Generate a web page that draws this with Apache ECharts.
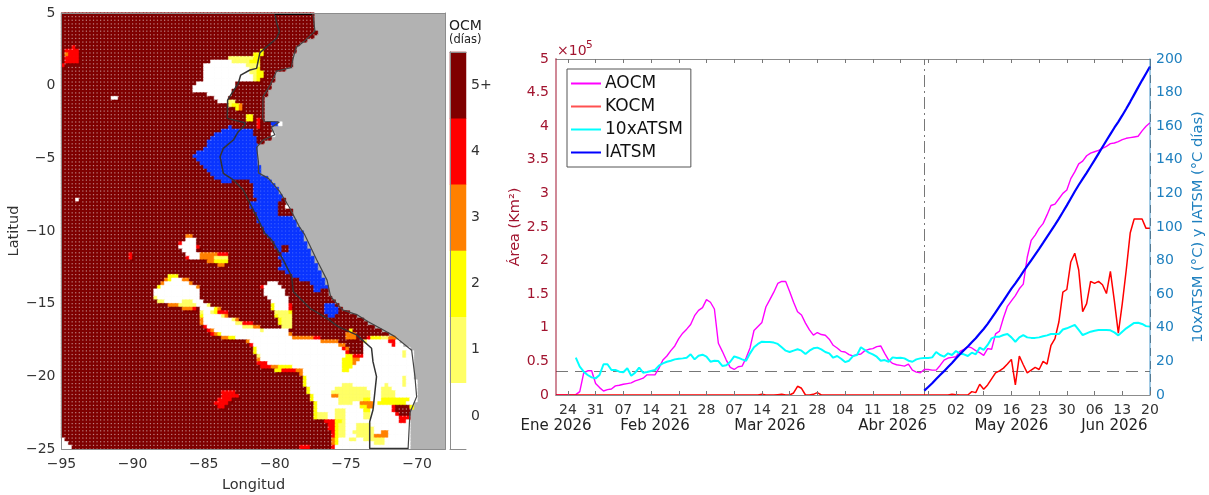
<!DOCTYPE html>
<html><head><meta charset="utf-8">
<script src="https://cdn.jsdelivr.net/npm/echarts@6/dist/echarts.min.js"></script>
<style>html,body{margin:0;padding:0;background:#fff}#c{width:1209px;height:495px}</style></head>
<body><div id="c"></div>
<script>
const FONT='DejaVu Sans';
// ---------- map: first grey (land) column of each 0.25-degree row, north to south
const landStart=[71,71,71,71,71,72,71,69,67,66,66,65,65,65,65,63,60,60,60,59,59,58,58,57,57,57,57,57,57,57,62,59,59,60,59,57,55,55,55,55,55,55,56,56,56,58,59,60,61,61,62,63,63,64,65,65,65,66,66,67,68,68,68,69,69,70,70,71,71,72,72,73,73,74,74,75,75,75,76,77,78,79,81,83,85,86,88,90,92,94,95,96,98,99,99,99,99,99,99,99,99,100,100,100,100,100,100,99,99,98,98,98,98,98,98,98,98,98,98,98];
// ---------- map: cells that differ from 5+, "row": "colA-colB:value" (6 = masked blue)
const mapSpans={
9:'3:4',10:'1-4:4 56:2',11:'1:3 2-4:4 54-56:2',12:'1-4:4 47-53:1 54-55:2',13:'1-4:4 42-47:0 48-52:1 53-55:2',14:'0:4 40-51:0 52-55:1',
15:'40-52:0 53-54:1 55:2',16:'40-52:0 53-54:1 55-56:2',17:'40-53:0 54:1 55-56:2',18:'40-53:0 54:1 55:2',19:'38-48:0',20:'37-48:0',21:'37-47:0',22:'41-47:0',
23:'14-15:0 43-46:0',24:'44-46:0 47-48:1',25:'47:1 48-49:2 50:3',26:'49:2 50:3',28:'52-53:2',29:'52-53:2 55:4',30:'55:4 59-60:6 61:0',31:'47:6 55:4 59-60:6',
32:'45-53:6',33:'43-53:6 59:0',34:'42-54:6',35:'41-54:6',36:'41-54:6',37:'40-54:6',38:'38-54:6',39:'37-54:6',40:'38-54:6',41:'39-54:6',42:'40-55:6',43:'41-55:6',44:'42-55:6',
45:'43-57:6',46:'45-47:6 53-58:6',47:'54-59:6',48:'54-60:6',49:'54-60:6',50:'54-61:6',51:'4:0 55-61:6',52:'53-60:6 63:0',53:'53-60:6 63:0',54:'54-60:6',55:'55-60:6',
56:'55-64:6',57:'55-65:6',58:'56-65:6',59:'57-66:6',60:'57-67:6',61:'35-36:3 58-67:6',62:'35-37:0 59-68:6',63:'33:4 34-37:0 60-64:6 65-68:6',64:'33-37:0 38:4 60-61:6 64-68:6',
65:'34-37:0 61:6 64-69:6',66:'19:4 35-38:0 39-43:3 44-46:4 62-69:6',67:'19:4 35:4 36-38:0 39-42:3 43-46:1 61-70:6',68:'41-42:3 43-46:2 62-70:6',69:'44-45:3 62-71:6',70:'61-71:6',71:'63-72:6',
72:'30-32:2 65-72:6',73:'29:3 30:2 31-33:0 34-35:3 67-73:6',74:'28:3 29-35:0 36:3 58-60:0 70-73:6',75:'27:2 28-37:0 38:3 56:4 57-61:0 71-74:6',76:'26-38:0 57-62:0 71-72:6',77:'26-38:0 57-62:0',
78:'26:1 27-38:0 58-63:0',79:'27-28:1 29-33:0 34-36:1 37-39:0 59-63:0',80:'30-32:3 33-37:1 38-40:0 41:1 59:2 60-63:0 64:4 74-76:6',81:'34-36:3 37:4 39-42:0 43:2 44:3 59:2 60-63:0 64:4 74-77:6',
82:'39:1 40-41:0 42:1 43:2 44-46:4 60-63:1 64:2 74-77:6',83:'39:2 40-44:0 45:1 46:3 60:2 61-64:1 75-76:6',84:'39:3 40-47:0 48:1 49:3 61:2 62-64:1',85:'39:3 40-48:0 49-50:1 51-53:4 61:2 62-64:1',
86:'40:4 41-50:0 51-53:1 54-55:3 62-64:1',87:'41:4 42:3 43-55:0 56:1 57-63:0 81:2',88:'42:4 43:3 44:2 45-63:0 64:3 80-82:3',89:'45-46:3 47-48:2 49-64:0 65-70:3 71-72:4 80-82:3 86:4 87-89:2 90-91:1 92-93:3',
90:'52:3 53-72:0 73-77:3 85:1 86-91:0 92-93:4 94:0',91:'53:4 54-77:0 78-79:3 85-92:0 93:4 94-95:0',92:'54:2 55-78:0 79:4 80:3 85-97:0',93:'54:2 55-79:0 80:4 85-98:0 96:1',94:'55:1 56-79:0 80-81:2 82-84:4 85-98:0 96:1',
95:'55:3 56-78:0 79-81:2 82-83:3 84-98:0',96:'55-57:4 58-78:0 79-81:2 82:3 83-98:0',97:'56-58:4 59-60:3 61-64:2 65-78:0 79-81:2 82-98:0',98:'60-61:2 62-65:4 66-67:3 68-98:0 79-80:2',99:'67:3 68-98:0',
100:'68:2 69-99:0 96:1',101:'68:2 69-99:0 96:1',102:'68:2 69-99:0 79-81:1 91:1 96:1',103:'69:2 70-99:0 77-85:1 90-92:1',104:'45-48:4 69:2 70-99:0 76-86:1 90-93:1',105:'45-49:4 70:2 71-99:0 76-77:3 78-86:1 90-93:1',
106:'44-47:4 70:2 71-99:0 78-84:1 85-86:2 90-97:2',107:'43-46:4 71:2 72-98:0 78-81:1 84-87:3 89-96:2',108:'44-45:4 71:2 72-98:0 84-85:2 86-87:3 93:4 94-97:5 98:2',109:'71:2 72-97:0 77-79:1 85-86:2 93:4 94-97:5 98:2',
110:'71:2 72-74:1 75-76:0 77-79:1 80-97:0 85-86:1 94:4 95-97:5',111:'71:2 72-74:1 75-76:0 77-79:1 80-97:0 85-86:1 95-97:4',112:'74-76:4 77-78:2 79:1 80-97:0 95-96:4',113:'75-76:4 77:2 78-79:1 80-97:0 83-86:1',
114:'75-76:4 77:2 78-79:1 80-97:0 83-87:1',115:'76:4 77:2 78-79:1 80-97:0 82-87:1 90-91:3',116:'76:4 77:2 78-79:1 80-97:0 83-87:1 88-91:3',117:'0:0 76:3 77:2 78-97:0 81-82:1 85-90:1',118:'0-1:0 76:3 77:2 78-97:0 88-90:1',119:'0-2:0 67-69:4 76:4 77-97:0'};
// ---------- map lines [lon, lat]
const borderLine=[[-80,5],[-79.87,4.29],[-79.68,3.72],[-79.87,3.26],[-80.7,2.57],[-81.05,2.27],[-81.28,1.19],[-81.75,1.08],[-82.4,.73],[-82.57,.16],[-83.03,-.53],[-83.32,-.99],[-83.34,-2.25],[-82.1,-2.55],[-82.1,-2.71],[-82.57,-3.17],[-82.92,-3.74],[-83.62,-4.31],[-83.85,-4.89],[-83.62,-6.03],[-82.92,-6.49],[-82.22,-7.18],[-81.75,-8.1],[-81.28,-9.01],[-80.7,-10.16],[-80.22,-10.62],[-79.4,-12],[-78.82,-13.14],[-78.7,-14.18],[-77.53,-15.32],[-76.35,-16],[-75.55,-16.58],[-74.25,-17.15],[-73.2,-18.07],[-73.1,-18.99],[-72.85,-20.02],[-73.1,-22.32],[-73.33,-23.12],[-73.33,-24.97],[-70.63,-24.97]];
const coastLine=[[-77.33,5],[-77.18,3.75],[-78,3],[-78.5,2.63],[-78.75,1.75],[-78.83,1.25],[-79.88,1],[-80.35,0],[-80.83,-.75],[-80.85,-2.25],[-80.75,-2.45],[-79.68,-2.5],[-80.25,-2.88],[-80,-3.38],[-80.83,-3.75],[-81.28,-4.25],[-81.15,-5.25],[-81.15,-6],[-80.45,-6.38],[-79.68,-7.25],[-79,-8.33],[-78.28,-9.7],[-77.9,-10.25],[-77.05,-12],[-76.33,-13.38],[-76.08,-14.5],[-75.25,-15.43],[-74.25,-15.75],[-73.43,-16.25],[-72.4,-16.8],[-71.58,-17.25],[-70.38,-18.2],[-70.15,-20],[-70.03,-21.4],[-70.5,-22.5],[-70.63,-25]];
const topStrip=[[-80,4.93],[-77.4,4.93]];
const cbLabels=['0','1','2','3','4','5+'];
const cbValues=[0,1,2,3,4,5];
const cellColors=['#ffffff','#ffff66','#ffff00','#ff8000','#ff0000','#7f0000','#0a35ff'];
const landColor='#b2b2b2';
// ---------- time series, one value per day from 21 Jan 2026 to 20 Jun 2026
const monthDays=[31,28,31,30,31,30];
const monthLabelAt={0:'Ene 2026',25:'Feb 2026',54:'Mar 2026',85:'Abr 2026',115:'May 2026',141:'Jun 2026'};
const aocm=[0,0,0,0,0,.005,.05,.33,.36,.36,.17,.11,.06,.08,.09,.135,.145,.16,.17,.18,.21,.23,.25,.30,.30,.30,.40,.52,.58,.66,.73,.84,.92,.98,1.05,1.18,1.26,1.30,1.42,1.38,1.28,.77,.65,.52,.41,.38,.42,.43,.55,.70,.96,1.02,1.08,1.31,1.42,1.53,1.66,1.69,1.69,1.54,1.38,1.24,1.19,1.07,.97,.89,.93,.90,.89,.83,.74,.70,.65,.64,.60,.58,.60,.61,.66,.68,.69,.72,.73,.62,.52,.47,.45,.44,.43,.46,.37,.34,.33,.38,.38,.37,.37,.44,.52,.55,.56,.57,.65,.68,.72,.70,.66,.63,.59,.69,.68,.91,.95,1.15,1.32,1.40,1.48,1.58,1.65,2.05,2.30,2.38,2.48,2.55,2.68,2.82,2.84,2.92,3.00,3.05,3.22,3.32,3.44,3.48,3.56,3.60,3.62,3.64,3.67,3.70,3.74,3.75,3.77,3.80,3.82,3.83,3.84,3.85,3.93,4.00,4.05];
const kocm=[0,0,0,0,0,0,0,0,0,0,0,0,0,0,0,0,0,0,0,0,0,0,0,0,0,0,0,0,0,0,0,0,0,0,0,0,0,0,0,0,0,0,0,0,0,0,0,0,0,0,0,0,.01,0,0,0,.005,.01,0,0,.03,.13,.10,0,0,.01,.035,0,0,0,0,0,0,0,0,0,0,0,0,0,0,0,0,0,0,0,0,0,0,0,0,0,0,0,0,0,0,0,0,0,.01,.005,0,0,0,.05,.035,.16,.085,.15,.24,.33,.36,.40,.46,.53,.15,.58,.45,.33,.37,.41,.38,.50,.46,.74,.84,1.09,1.53,1.57,1.98,2.11,1.86,1.24,1.36,1.69,1.66,1.69,1.64,1.51,1.84,1.40,.92,1.36,1.86,2.41,2.62,2.62,2.62,2.48,2.48];
const atsm=[null,null,null,null,null,22.2,16.9,13.9,11.9,10.5,9.9,11.9,18.3,18.3,14.9,14.9,13.9,13.5,15.9,11.5,13.3,16.3,13.3,13.7,14.3,14.9,17.5,18.8,19.8,20.4,21.2,21.6,21.8,22.2,24.2,21.2,23.4,24,22.8,19.8,20.4,20.2,17.3,17.7,19.8,23,22.2,21.2,20.4,24.8,28.4,30.4,31.7,31.5,31.5,31.2,30.4,28.4,26.4,25.6,26.4,27.2,26.4,24.4,26.4,27.8,28.2,27.2,25.6,24.8,22.2,23.2,21.6,19.6,20.4,23.2,23.8,28.4,26.8,25.2,24.2,22.8,20.4,20.8,19.8,22.4,22,22.2,21.8,20.4,19.8,21.2,21.8,22,22,22.4,25.6,23.8,22.8,24.8,23.8,26.2,24.6,24.2,23.2,25.2,24.2,28.2,26.8,29.8,33.7,34.7,34.7,35.7,36.3,34.3,31.7,34.3,35.7,34.3,34,34,34.3,35,35.5,36.3,36.3,36.3,39,39.7,40.7,41.7,38.7,35.7,36.7,37.7,38.3,38.7,38.7,38.7,38.5,37.3,35.5,37.7,39.7,41.3,42.9,43,42.3,41,40.7];
const iatsmStart=93;
const iatsmValues=[2.6,4.8,7,9.5,11.9,14.2,16.7,19.1,21.7,24.2,26.6,28.9,31.4,33.8,36.6,39.3,42.3,45.7,49.2,52.7,56.2,59.8,63.3,66.4,69.8,73.4,76.8,80.2,83.6,87,90.5,94.1,97.7,101.3,105,108.9,112.9,117,121.1,125,128.6,132.2,136,139.8,143.7,147.6,151.5,155.3,159.1,162.6,166.4,170.4,174.5,178.8,183.1,187.3,191.4,195.5];
const refArea=0.35;
const refDay=93;
const lastDay=150;

// ---------- build tables
const COLS=108,ROWS=120;
const cells=[],dotsRed=[],dotsBlue=[];
const colCats=[],rowCats=[];
for(let c=0;c<COLS;c++)colCats.push(c);
for(let r=0;r<ROWS;r++)rowCats.push(r);
for(let r=0;r<ROWS;r++){
  const row=new Array(COLS).fill(5);
  (mapSpans[r]||'').split(' ').filter(Boolean).forEach(s=>{
    const [rng,v]=s.split(':');const [a,b]=rng.split('-').map(Number);
    for(let c=a;c<=(b===undefined?a:b);c++)row[c]=+v;
  });
  for(let c=0;c<landStart[r];c++){
    const v=row[c];
    cells.push({value:[c,r,v],itemStyle:{color:cellColors[v],borderColor:cellColors[v],borderWidth:.5}});
    if(v===5)dotsRed.push([-95+(c+1)/4,5-(r+1)/4]);
    if(v===6)dotsBlue.push([-95+(c+1)/4,5-(r+1)/4]);
  }
}
const dayCats=[];
monthDays.forEach((n,m)=>{for(let d=1;d<=n;d++){dayCats.push({m,d});}});
const dates=dayCats.slice(20,171).map(o=>(o.d<10?'0':'')+o.d);
const iatsm=dates.map((_,i)=>i<iatsmStart?null:iatsmValues[i-iatsmStart]);
const isWeekTick=i=>i%7===3;
const RED='#a2142f',BLUE='#1f80bf',FRAME='#8c8c8c';
const lonFmt=v=>String(v).replace('-','\u2212');

const chart=echarts.init(document.getElementById('c'),null,{renderer:'canvas'});
const txt={fontFamily:FONT,color:'#333'};
const frameAxis=(gridIndex,position,extra)=>Object.assign({type:'value',gridIndex,position,min:0,max:1,z:10,
  axisLine:{show:true,onZero:false,lineStyle:{color:FRAME}},axisTick:{show:false},axisLabel:{show:false},splitLine:{show:false}},extra||{});
chart.setOption({
 animation:false,
 backgroundColor:'#fff',
 textStyle:{fontFamily:FONT},
 grid:[{left:61.5,top:13,width:384,height:436,show:true,backgroundColor:landColor,borderWidth:0,outerBoundsMode:'none'},
       {left:450,top:52,width:16,height:397,outerBoundsMode:'none'},
       {left:556,top:59,width:594,height:336,outerBoundsMode:'none'}],
 visualMap:{type:'piecewise',show:false,seriesIndex:[1],dimension:2,
   pieces:cellColors.map((color,value)=>({value,color}))},
 xAxis:[
  {type:'category',gridIndex:0,data:colCats,show:false},
  {type:'value',gridIndex:0,min:-95,max:-68,interval:5,z:10,position:'bottom',
   axisLine:{show:true,onZero:false,lineStyle:{color:FRAME,width:1}},axisTick:{show:false},splitLine:{show:false},
   axisLabel:{...txt,fontSize:14,margin:8,showMaxLabel:false,formatter:lonFmt},
   name:'Longitud',nameLocation:'middle',nameGap:29,nameTextStyle:{...txt,fontSize:14.5}},
  frameAxis(0,'top',{min:-95,max:-68}),
  {type:'category',gridIndex:1,data:['b'],show:false},
  {type:'category',gridIndex:2,data:dates,boundaryGap:false,position:'bottom',z:10,
   axisLine:{onZero:false,lineStyle:{color:FRAME}},
   axisTick:{inside:true,length:4,alignWithLabel:true,interval:i=>isWeekTick(i),lineStyle:{color:'#777'}},
   axisLabel:{...txt,fontSize:14,margin:8,interval:i=>isWeekTick(i)},splitLine:{show:false}},
  {type:'category',gridIndex:2,data:dates,boundaryGap:false,position:'bottom',offset:16,
   axisLine:{show:false},axisTick:{show:false},splitLine:{show:false},
   axisLabel:{fontFamily:FONT,color:'#222',fontSize:15,margin:8,interval:i=>monthLabelAt[i]!==undefined,formatter:(v,i)=>monthLabelAt[i]||''}},
  {type:'category',gridIndex:2,data:dates,boundaryGap:false,position:'top',
   axisLine:{onZero:false,lineStyle:{color:FRAME}},axisLabel:{show:false},splitLine:{show:false},
   axisTick:{inside:true,length:4,alignWithLabel:true,interval:i=>isWeekTick(i),lineStyle:{color:'#777'}}},
  frameAxis(1,'top'),
  frameAxis(1,'bottom')
 ],
 yAxis:[
  {type:'category',gridIndex:0,data:rowCats,inverse:true,show:false},
  {type:'value',gridIndex:0,min:-25,max:5,interval:5,z:10,position:'left',
   axisLine:{show:true,onZero:false,lineStyle:{color:FRAME}},axisTick:{show:false},splitLine:{show:false},
   axisLabel:{...txt,fontSize:14,margin:6,formatter:lonFmt},
   name:'Latitud',nameLocation:'middle',nameGap:32,nameTextStyle:{...txt,fontSize:14.5}},
  frameAxis(0,'right',{min:-25,max:5}),
  {type:'category',gridIndex:1,data:cbLabels,position:'right',z:10,
   axisLine:{show:true,lineStyle:{color:FRAME}},
   axisTick:{inside:true,length:3,alignWithLabel:true,lineStyle:{color:'#444'}},
   axisLabel:{...txt,fontSize:14,margin:5}},
  {type:'value',gridIndex:2,min:0,max:5,interval:.5,position:'left',z:10,
   axisLine:{show:true,onZero:false,lineStyle:{color:'rgba(162,20,47,.5)',width:2}},
   axisTick:{inside:true,length:4,lineStyle:{color:'rgba(162,20,47,.6)'}},splitLine:{show:false},
   axisLabel:{fontFamily:FONT,color:RED,fontSize:14,margin:7},
   name:'\u00c1rea (Km\u00b2)',nameLocation:'middle',nameGap:28,nameTextStyle:{fontFamily:FONT,color:RED,fontSize:14.5}},
  {type:'value',gridIndex:2,min:0,max:200,interval:20,position:'right',z:10,
   axisLine:{show:true,onZero:false,lineStyle:{color:'rgba(31,128,191,.55)',width:1.5}},
   axisTick:{inside:true,length:4,lineStyle:{color:BLUE}},splitLine:{show:false},
   axisLabel:{fontFamily:FONT,color:BLUE,fontSize:14,margin:6},
   name:'10xATSM (\u00b0C) y IATSM (\u00b0C d\u00edas)',nameLocation:'middle',nameGap:41,nameRotate:90,nameTextStyle:{fontFamily:FONT,color:BLUE,fontSize:14.7}},
  frameAxis(1,'left')
 ],
 legend:{orient:'vertical',left:567,top:69,itemWidth:30,itemHeight:2,itemGap:6,padding:[6,8,6,4],
   backgroundColor:'#fff',borderColor:'#555',borderWidth:1,borderRadius:0,
   icon:'rect',
   textStyle:{fontFamily:FONT,fontSize:17,lineHeight:16,color:'#111',padding:[0,0,0,-1]},
   data:['AOCM','KOCM','10xATSM','IATSM']},
 graphic:[
  {type:'text',left:449,top:19,style:{text:'OCM',font:'14px "DejaVu Sans"',fill:'#222'}},
  {type:'text',left:449,top:34,style:{text:'(d\u00edas)',font:'11.5px "DejaVu Sans"',fill:'#222'}},
  {type:'text',left:557,top:44,style:{text:'\u00d710',font:'14px "DejaVu Sans"',fill:RED}},
  {type:'text',left:586,top:40,style:{text:'5',font:'10.5px "DejaVu Sans"',fill:RED}}
 ],
 series:[
  {type:'heatmap',xAxisIndex:0,yAxisIndex:0,data:cells,silent:true,emphasis:{disabled:true},progressive:0},
  {type:'heatmap',xAxisIndex:3,yAxisIndex:3,data:cbValues.map((v,i)=>[0,i,v]),silent:true,emphasis:{disabled:true}},
  {type:'scatter',xAxisIndex:1,yAxisIndex:1,data:dotsRed,symbol:'rect',symbolSize:1.2,silent:true,large:true,largeThreshold:100,itemStyle:{color:'rgba(255,255,255,.65)'},z:3},
  {type:'scatter',xAxisIndex:1,yAxisIndex:1,data:dotsBlue,symbol:'rect',symbolSize:1.3,silent:true,large:true,largeThreshold:10,itemStyle:{color:'rgba(150,180,255,.4)'},z:3},
  {type:'line',xAxisIndex:1,yAxisIndex:1,data:coastLine,showSymbol:false,silent:true,lineStyle:{color:'#444',width:1.2},z:4},
  {type:'line',xAxisIndex:1,yAxisIndex:1,data:borderLine,showSymbol:false,silent:true,lineStyle:{color:'#333',width:1.5},z:4},
  {type:'line',xAxisIndex:1,yAxisIndex:1,data:topStrip,showSymbol:false,silent:true,lineStyle:{color:'#000',width:2},z:4},
  {name:'AOCM',type:'line',xAxisIndex:4,yAxisIndex:4,data:aocm,showSymbol:false,silent:true,itemStyle:{color:'#ff00ff'},lineStyle:{color:'#ff00ff',width:1.4},z:5},
  {name:'KOCM',type:'line',xAxisIndex:4,yAxisIndex:4,data:kocm,showSymbol:false,silent:true,clip:false,itemStyle:{color:'#ff5050'},lineStyle:{color:'#ff0000',width:1.5},z:5,
    markLine:{silent:true,symbol:'none',label:{show:false},animation:false,
      data:[{yAxis:refArea,lineStyle:{color:'#777',type:[12,7],width:1}},
            {xAxis:refDay,lineStyle:{color:'#777',type:[12,4,2,4],width:1}},
            {xAxis:lastDay,lineStyle:{color:'#777',type:[8,5],width:1}}]}},
  {name:'10xATSM',type:'line',xAxisIndex:4,yAxisIndex:5,data:atsm,showSymbol:false,silent:true,connectNulls:false,itemStyle:{color:'#00ffff'},lineStyle:{color:'#00ffff',width:2},z:6},
  {name:'IATSM',type:'line',xAxisIndex:4,yAxisIndex:5,data:iatsm,showSymbol:false,silent:true,itemStyle:{color:'#0000ff'},lineStyle:{color:'#0000ff',width:2.2},z:7}
 ]
});
</script></body></html>
